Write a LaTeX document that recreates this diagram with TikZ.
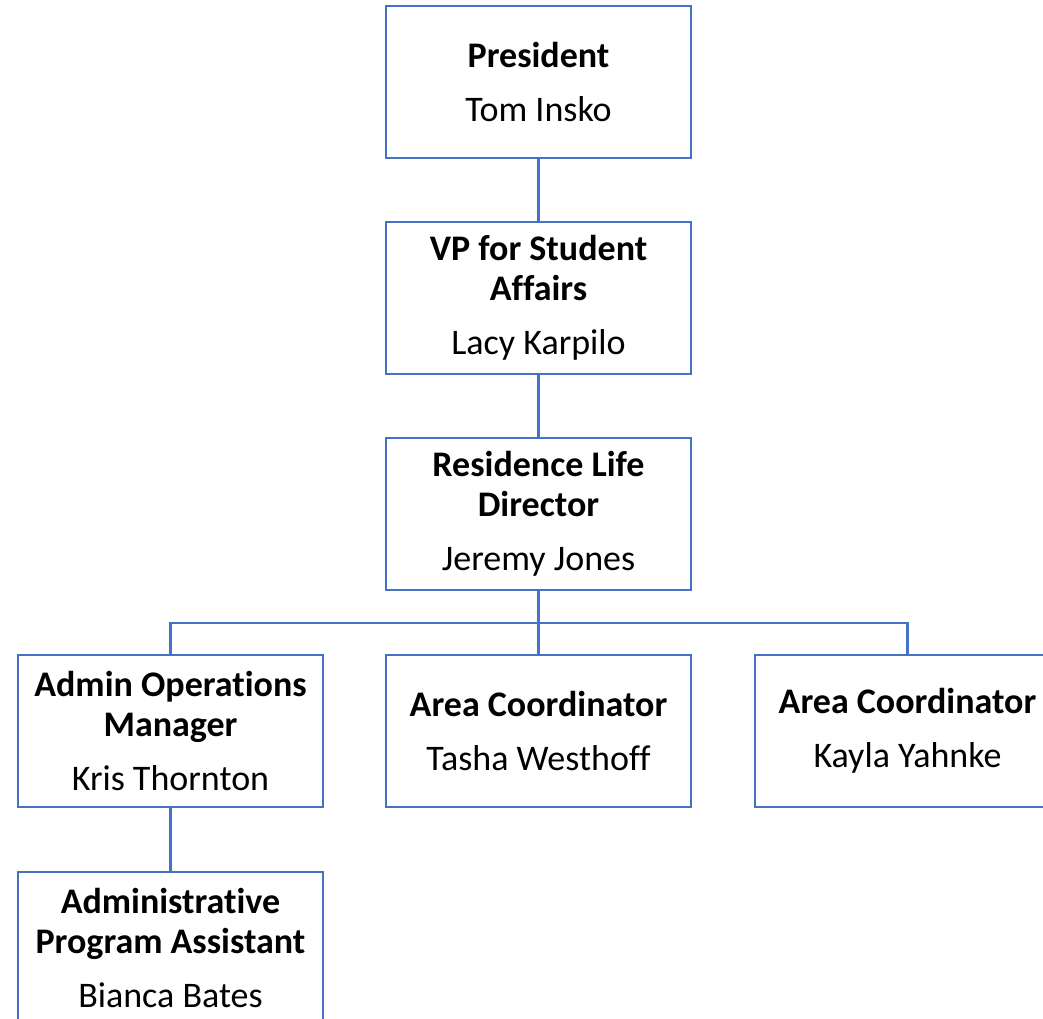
\documentclass[tikz,border=0pt]{standalone}
\usepackage{fontspec}
\setmainfont[Ligatures=NoCommon]{Carlito}
\definecolor{boxblue}{HTML}{4472C4}
\begin{document}
\begin{tikzpicture}[x=1pt,y=-1pt,
  orgbox/.style={draw=boxblue,line width=2.6pt,fill=white,rectangle,minimum width=305pt,minimum height=152pt,align=center,inner sep=0pt,font=\fontsize{36}{40}\selectfont},
  link/.style={draw=boxblue,line width=2.6pt}]
\useasboundingbox (0,0) rectangle (1043,1018);
\clip (0,0) rectangle (1043,1018);
\node[orgbox] (pres) at (538.5,82) {\textbf{President}\\[14pt]Tom Insko};
\node[orgbox] (vp) at (538.5,298) {\textbf{VP for Student}\\\textbf{Affairs}\\[14pt]Lacy Karpilo};
\node[orgbox] (rl) at (538.5,514) {\textbf{Residence Life}\\\textbf{Director}\\[14pt]Jeremy Jones};
\node[orgbox] (admin) at (170.5,731) {\textbf{Admin Operations}\\\textbf{Manager}\\[14pt]Kris Thornton};
\node[orgbox] (ac1) at (538.5,731) {\textbf{Area Coordinator}\\[14pt]Tasha Westhoff};
\node[orgbox] (ac2) at (907.5,731) {\textbf{Area Coordinator}\\[14pt]Kayla Yahnke};
\node[orgbox] (apa) at (170.5,948) {\textbf{Administrative}\\\textbf{Program Assistant}\\[14pt]Bianca Bates};
\coordinate (bus) at (538.5,623);
\draw[link] (pres) -- (vp);
\draw[link] (vp) -- (rl);
\draw[link] (rl) -- (ac1);
\draw[link] (bus) -| (admin.north);
\draw[link] (bus) -| (ac2.north);
\draw[link] (admin) -- (apa);
\end{tikzpicture}
\end{document}
